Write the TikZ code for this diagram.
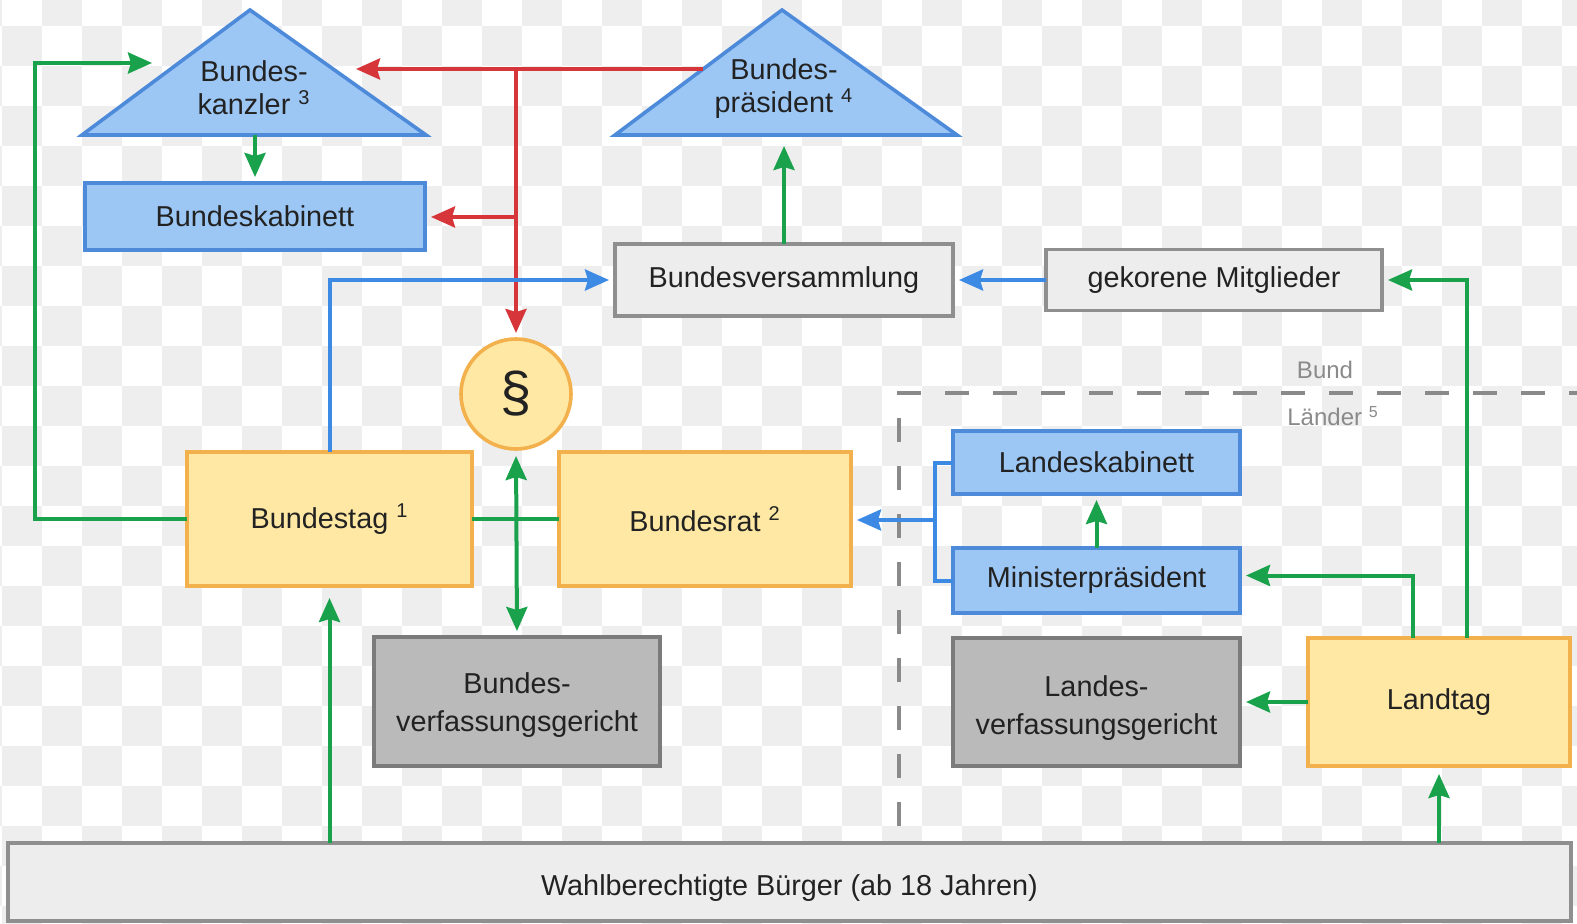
\documentclass[tikz,border=0pt]{standalone}
\usepackage{fontspec}
\setmainfont{Liberation Sans}
\usetikzlibrary{arrows.meta,calc}
\definecolor{chk}{HTML}{EEEEEE}
\definecolor{bfill}{HTML}{9CC7F5}
\definecolor{bdraw}{HTML}{4D8AD9}
\definecolor{yfill}{HTML}{FFE8A3}
\definecolor{ydraw}{HTML}{F2B14C}
\definecolor{gfill}{HTML}{BABABA}
\definecolor{gdraw}{HTML}{7B7B7B}
\definecolor{lfill}{HTML}{EDEDED}
\definecolor{ldraw}{HTML}{8F8F8F}
\definecolor{txtc}{HTML}{222222}
\definecolor{cgreen}{HTML}{19A24B}
\definecolor{cred}{HTML}{D6363A}
\definecolor{cblue}{HTML}{3D8AE5}
\definecolor{dashc}{HTML}{8A8A8A}
\tikzset{
  box/.style={draw, line width=1.8pt, inner sep=0pt, outer sep=0pt, text=txtc, align=center,
    font=\fontsize{14.4pt}{17pt}\selectfont},
  bluebox/.style={box, fill=bfill, draw=bdraw},
  yelbox/.style={box, fill=yfill, draw=ydraw},
  graybox/.style={box, fill=gfill, draw=gdraw},
  lightbox/.style={box, fill=lfill, draw=ldraw},
  tri/.style={fill=bfill, draw=bdraw, line width=1.8pt, line join=miter},
  ttext/.style={text=txtc, align=center, inner sep=0pt, font=\fontsize{14.4pt}{16.5pt}\selectfont},
  conn/.style={line width=2pt},
  tipA/.style={-{Stealth[length=12pt,width=10.5pt,inset=1.5pt]}},
  gline/.style={conn, draw=cgreen},
  garrow/.style={conn, draw=cgreen, tipA, shorten >=3pt},
  rline/.style={conn, draw=cred},
  rarrow/.style={conn, draw=cred, tipA, shorten >=3pt},
  bline/.style={conn, draw=cblue},
  barrow/.style={conn, draw=cblue, tipA, shorten >=3pt},
  dashline/.style={line width=2pt, draw=dashc, dash pattern=on 12pt off 12pt},
  glabel/.style={text=dashc, inner sep=0pt, font=\fontsize{12pt}{14pt}\selectfont},
}
\begin{document}
\begin{tikzpicture}[x=0.5pt,y=-0.5pt]
\useasboundingbox (0,0) rectangle (1577,924);
% checkerboard background
\begin{scope}
\clip (0,0) rectangle (1577,924);
\fill[white] (0,0) rectangle (1577,924);
\foreach \i in {-1,...,39}{
  \foreach \j in {-1,...,22}{
    \pgfmathtruncatemacro{\pp}{mod(\i+\j+100,2)}
    \ifnum\pp=0 \fill[chk] ({2+40*\i},{26+40*\j}) rectangle ++(40,40); \fi
  }
}
\end{scope}

% Bund / Laender separation
\draw[dashline] (897,393) -- (1577,393);
\draw[dashline] (899,418) -- (899,840);
\node[glabel] (bund) at (1325,370) {Bund};
\node[glabel] (laender) at (1333,416) {Länder \textsuperscript{5}};

% triangles
\path[tri] (82,135) -- (250,10) -- (426,135) -- cycle;
\path[tri] (615,135) -- (782,10) -- (957,135) -- cycle;
\node[ttext] (kanzler) at (254,88) {Bundes-\\kanzler \textsuperscript{3}};
\node[ttext] (praesident) at (784,89) {Bundes-\\präsident \textsuperscript{4}};
\coordinate (kbase) at (255,135);
\coordinate (kin) at (152,63);
\coordinate (kleft) at (35,63);
\coordinate (kred) at (356,69);
\coordinate (pred) at (703,69);
\coordinate (pbase) at (784,146);
\coordinate (rj) at (516,69);
\coordinate (rj2) at (516,217);

% boxes
\node[bluebox, minimum width=170pt, minimum height=33.5pt] (kabinett) at (255,216.5) {Bundeskabinett};
\node[lightbox, minimum width=169pt, minimum height=36pt] (bversamm) at (784,280) {Bundesversammlung};
\node[lightbox, minimum width=168pt, minimum height=30.5pt] (gekorene) at (1214,280) {gekorene Mitglieder};
\node[circle, draw=ydraw, fill=yfill, line width=1.8pt, minimum size=55pt, inner sep=0pt, outer sep=0pt,
      text=txtc, font=\fontsize{28pt}{32pt}\selectfont] (para) at (516,394) {§};
\node[yelbox, minimum width=142.5pt, minimum height=67pt] (bundestag) at (329.5,519) {Bundestag \textsuperscript{1}};
\node[yelbox, minimum width=146pt, minimum height=67pt] (bundesrat) at (705,519) {Bundesrat \textsuperscript{2}};
\node[graybox, minimum width=143pt, minimum height=64.5pt, font=\fontsize{14.4pt}{19pt}\selectfont] (bverfg) at (517,701.5) {\raisebox{-2pt}[\height][\depth]{Bundes-}\\\raisebox{-2pt}[\height][\depth]{verfassungsgericht}};
\node[bluebox, minimum width=143.5pt, minimum height=31.5pt] (lkab) at (1096.5,462.5) {Landeskabinett};
\node[bluebox, minimum width=143.5pt, minimum height=32.5pt] (mp) at (1096.5,580.5) {Ministerpräsident};
\node[graybox, minimum width=143.5pt, minimum height=64pt, font=\fontsize{14.4pt}{19pt}\selectfont] (lverfg) at (1096.5,702) {\raisebox{-3pt}[\height][\depth]{Landes-}\\\raisebox{-3pt}[\height][\depth]{verfassungsgericht}};
\node[yelbox, minimum width=131pt, minimum height=64pt] (landtag) at (1439,702) {Landtag};
\node[lightbox, minimum width=781.5pt, minimum height=39pt] (wahl) at (789.5,882) {\raisebox{-3pt}[\height][\depth]{Wahlberechtigte Bürger (ab 18 Jahren)}};

% connectors
\draw[garrow, shorten >=0pt] (bundestag.west) -| (kleft) -- (kin);
\draw[garrow] (kbase) -- (kabinett.north);
\draw[rline] (pred) -- (rj);
\draw[rarrow, shorten >=0pt] (rj) -- (kred);
\draw[rarrow] (rj) -- (para.north);
\draw[rarrow] (rj2) -- (kabinett.east |- rj2);
\draw[barrow] (bundestag.north) |- (bversamm.west);
\draw[garrow, shorten >=0pt] (bversamm.north) -- (pbase);
\draw[barrow] (gekorene.west) -- (bversamm.east);
\draw[garrow] ([xshift=14pt]landtag.north) |- (gekorene.east);
\draw[gline] (bundestag.east) -- (bundesrat.west);
\draw[garrow, shorten <=3.5pt, {Stealth[length=12pt,width=10.5pt,inset=1.5pt]}-{Stealth[length=12pt,width=10.5pt,inset=1.5pt]}] (para.south) -- (bverfg.north);
\coordinate (bx) at (935,520);
\draw[bline] (lkab.west) -| (bx) |- (mp.west);
\draw[barrow] (bx) -- (bundesrat.east |- bx);
\draw[garrow] (mp.north) -- (lkab.south);
\draw[garrow] ([xshift=-13pt]landtag.north) |- ([yshift=2.5pt]mp.east);
\draw[garrow] (landtag.west) -- (lverfg.east);
\draw[garrow, shorten >=6pt] (wahl.north -| bundestag.south) -- (bundestag.south);
\draw[garrow, shorten >=4pt] (wahl.north -| landtag.south) -- (landtag.south);
\end{tikzpicture}
\end{document}
